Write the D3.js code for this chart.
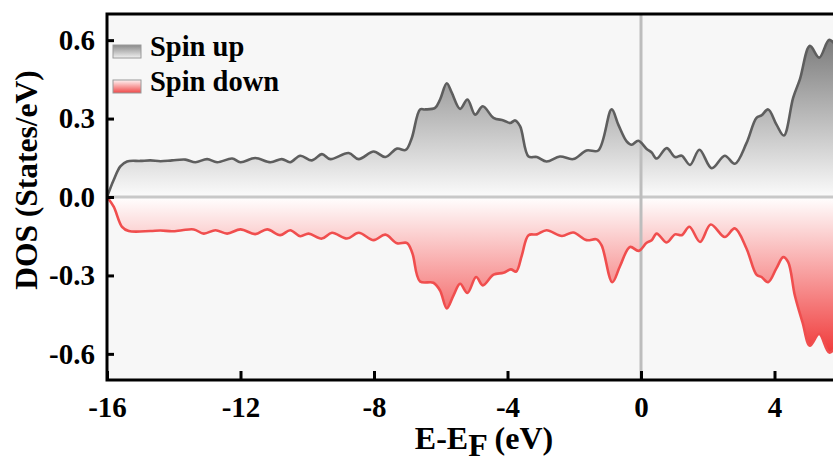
<!DOCTYPE html>
<html>
<head>
<meta charset="utf-8">
<script src="https://cdn.jsdelivr.net/npm/d3@7"></script>
<style>
  html, body { margin: 0; padding: 0; background: #ffffff; }
  svg { display: block; }
  text { font-family: "Liberation Serif", "Times New Roman", serif; font-weight: bold; fill: #000; }
</style>
</head>
<body>
<svg id="chart" width="833" height="463"></svg>
<script>
// ---- data ----
const xTicks = [-16, -12, -8, -4, 0, 4];
const yTicks = [-0.6, -0.3, 0.0, 0.3, 0.6];
const seriesNames = ["Spin up", "Spin down"];

const upE = [-16.0,-15.8,-15.6,-15.4,-15.0,-14.7,-14.4,-14.05,-13.65,-13.35,-13.0,-12.7,-12.25,-12.0,-11.56,-11.1,-10.76,-10.51,-10.21,-9.86,-9.56,-9.31,-8.76,-8.46,-8.01,-7.66,-7.31,-7.05,-6.87,-6.62,-6.47,-6.17,-6.02,-5.82,-5.67,-5.42,-5.2,-4.97,-4.74,-4.42,-4.12,-3.92,-3.77,-3.62,-3.37,-3.12,-2.83,-2.43,-2.03,-1.63,-1.28,-0.88,-0.68,-0.43,-0.28,-0.08,0.17,0.32,0.47,0.77,1.02,1.22,1.47,1.75,2.12,2.51,2.81,3.16,3.46,3.61,3.81,4.06,4.28,4.56,4.76,5.06,5.34,5.64,5.9,6.0];
const upV = [0.0,0.065,0.117,0.136,0.138,0.14,0.137,0.14,0.143,0.133,0.145,0.133,0.147,0.133,0.149,0.133,0.145,0.133,0.158,0.14,0.164,0.145,0.168,0.145,0.174,0.153,0.185,0.18,0.225,0.335,0.335,0.341,0.373,0.435,0.399,0.337,0.373,0.315,0.347,0.303,0.293,0.283,0.293,0.27,0.155,0.153,0.136,0.155,0.145,0.178,0.178,0.335,0.277,0.213,0.2,0.215,0.184,0.17,0.147,0.187,0.153,0.158,0.123,0.181,0.11,0.158,0.127,0.206,0.303,0.312,0.335,0.277,0.235,0.38,0.45,0.578,0.533,0.601,0.57,0.55];

const downE = [-16.0,-15.8,-15.55,-15.35,-14.7,-14.4,-14.05,-13.75,-13.4,-13.1,-12.75,-12.4,-12.0,-11.56,-11.2,-10.81,-10.51,-10.21,-9.96,-9.56,-9.26,-8.81,-8.46,-8.01,-7.66,-7.31,-7.01,-6.85,-6.62,-6.22,-6.02,-5.82,-5.62,-5.42,-5.2,-4.94,-4.74,-4.42,-4.12,-3.9,-3.74,-3.57,-3.37,-3.12,-2.83,-2.37,-2.03,-1.63,-1.33,-1.18,-0.86,-0.63,-0.33,-0.07,0.17,0.32,0.47,0.77,1.02,1.22,1.45,1.77,2.09,2.51,2.81,3.16,3.46,3.61,3.81,4.06,4.26,4.41,4.61,4.84,5.06,5.34,5.64,5.9,6.0];
const downV = [0.0,-0.037,-0.114,-0.13,-0.13,-0.128,-0.131,-0.127,-0.124,-0.14,-0.127,-0.14,-0.124,-0.142,-0.124,-0.146,-0.127,-0.15,-0.14,-0.159,-0.137,-0.159,-0.137,-0.165,-0.144,-0.177,-0.176,-0.215,-0.323,-0.328,-0.358,-0.426,-0.377,-0.332,-0.367,-0.306,-0.338,-0.297,-0.29,-0.277,-0.285,-0.223,-0.146,-0.143,-0.127,-0.149,-0.136,-0.165,-0.162,-0.185,-0.326,-0.265,-0.191,-0.206,-0.175,-0.165,-0.14,-0.174,-0.143,-0.146,-0.114,-0.172,-0.105,-0.153,-0.12,-0.197,-0.297,-0.306,-0.326,-0.272,-0.23,-0.249,-0.377,-0.48,-0.569,-0.524,-0.595,-0.57,-0.56];

// ---- layout ----
const svg = d3.select("#chart");
const pLeft = 107, pTop = 14, pBottom = 380;
const x = d3.scaleLinear().domain([-16, 6]).range([pLeft, pLeft + 22 * 33.375]);
const y = d3.scaleLinear().domain([-0.7, 0.7]).range([pBottom, pTop]);
const pRight = x(6);
const loc = d3.formatLocale({decimal: ".", thousands: ",", grouping: [3], currency: ["", ""], minus: "-"});

const defs = svg.append("defs");
defs.append("clipPath").attr("id", "clip")
  .append("rect").attr("x", pLeft).attr("y", pTop).attr("width", pRight - pLeft).attr("height", pBottom - pTop);

const gUp = defs.append("linearGradient").attr("id", "gUp").attr("gradientUnits", "userSpaceOnUse")
  .attr("x1", 0).attr("x2", 0).attr("y1", y(0)).attr("y2", y(0.6));
gUp.append("stop").attr("offset", 0).attr("stop-color", "#fbfbfb");
gUp.append("stop").attr("offset", 1).attr("stop-color", "#7c7c7c");

const gDn = defs.append("linearGradient").attr("id", "gDn").attr("gradientUnits", "userSpaceOnUse")
  .attr("x1", 0).attr("x2", 0).attr("y1", y(0)).attr("y2", y(-0.6));
gDn.append("stop").attr("offset", 0).attr("stop-color", "#ffffff");
gDn.append("stop").attr("offset", 1).attr("stop-color", "#f03a3a");

const lgUp = defs.append("linearGradient").attr("id", "lgUp").attr("x1", 0).attr("x2", 0).attr("y1", 0).attr("y2", 1);
lgUp.append("stop").attr("offset", 0).attr("stop-color", "#8a8a8a");
lgUp.append("stop").attr("offset", 1).attr("stop-color", "#f0f0f0");
const lgDn = defs.append("linearGradient").attr("id", "lgDn").attr("x1", 0).attr("x2", 0).attr("y1", 0).attr("y2", 1);
lgDn.append("stop").attr("offset", 0).attr("stop-color", "#fff4f4");
lgDn.append("stop").attr("offset", 1).attr("stop-color", "#f04848");

// plot background
svg.append("rect").attr("x", pLeft).attr("y", pTop).attr("width", pRight - pLeft).attr("height", pBottom - pTop)
  .attr("fill", "#f7f7f7");

const up = upE.map((e, i) => ({e, v: upV[i]}));
const dn = downE.map((e, i) => ({e, v: downV[i]}));

const curve = d3.curveCatmullRom.alpha(0.5);
const area = d3.area().x(d => x(d.e)).y0(y(0)).y1(d => y(d.v)).curve(curve);
const line = d3.line().x(d => x(d.e)).y(d => y(d.v)).curve(curve);

const plot = svg.append("g").attr("clip-path", "url(#clip)");
plot.append("path").datum(up).attr("d", area).attr("fill", "url(#gUp)");
plot.append("path").datum(dn).attr("d", area).attr("fill", "url(#gDn)");

// reference lines
plot.append("line").attr("x1", pLeft).attr("x2", pRight).attr("y1", y(0)).attr("y2", y(0))
  .attr("stroke", "#c8c8c8").attr("stroke-width", 3);
plot.append("line").attr("x1", x(0)).attr("x2", x(0)).attr("y1", pTop).attr("y2", pBottom)
  .attr("stroke", "#bdbdbd").attr("stroke-width", 3);

plot.append("path").datum(up).attr("d", line).attr("fill", "none").attr("stroke", "#5e5e5e").attr("stroke-width", 2.6);
plot.append("path").datum(dn).attr("d", line).attr("fill", "none").attr("stroke", "#f04e4e").attr("stroke-width", 2.6);

// axes
const xAxis = d3.axisBottom(x).tickValues(xTicks).tickSize(-9).tickPadding(16).tickFormat(loc.format("d"));
const gx = svg.append("g").attr("transform", `translate(0,${pBottom})`).call(xAxis);
gx.select(".domain").remove();
gx.selectAll(".tick line").attr("stroke", "#000").attr("stroke-width", 3);
gx.selectAll(".tick text").attr("font-size", 29).attr("font-family", "Liberation Serif").attr("font-weight", "bold");

const yAxis = d3.axisLeft(y).tickValues(yTicks).tickSize(-7).tickPadding(12).tickFormat(loc.format(".1f"));
const gy = svg.append("g").attr("transform", `translate(${pLeft},0)`).call(yAxis);
gy.select(".domain").remove();
gy.selectAll(".tick line").attr("stroke", "#000").attr("stroke-width", 3);
gy.selectAll(".tick text").attr("font-size", 29).attr("font-family", "Liberation Serif").attr("font-weight", "bold");

// frame
svg.append("path").attr("d", `M${pRight},${pTop} H${pLeft} V${pBottom} H${pRight}`)
  .attr("fill", "none").attr("stroke", "#000").attr("stroke-width", 3);

// axis titles
const xt = svg.append("text").attr("x", 484).attr("y", 449).attr("text-anchor", "middle").attr("font-size", 32);
xt.append("tspan").text("E-E");
xt.append("tspan").attr("dy", 7).text("F");
xt.append("tspan").attr("dy", -7).text(" (eV)");

svg.append("text").attr("transform", `translate(37,180) rotate(-90)`)
  .attr("text-anchor", "middle").attr("font-size", 31.5).text("DOS (States/eV)");

// legend
const legend = svg.append("g");
const fills = ["url(#lgUp)", "url(#lgDn)"];
const ly = [45, 80];
seriesNames.forEach((name, i) => {
  legend.append("rect").attr("x", 113).attr("y", ly[i]).attr("width", 28).attr("height", 13)
    .attr("fill", fills[i]).attr("stroke", "#9a9a9a").attr("stroke-width", 1);
  legend.append("text").attr("x", 150).attr("y", ly[i] + 11).attr("font-size", 28.5).text(name);
});
</script>
</body>
</html>
